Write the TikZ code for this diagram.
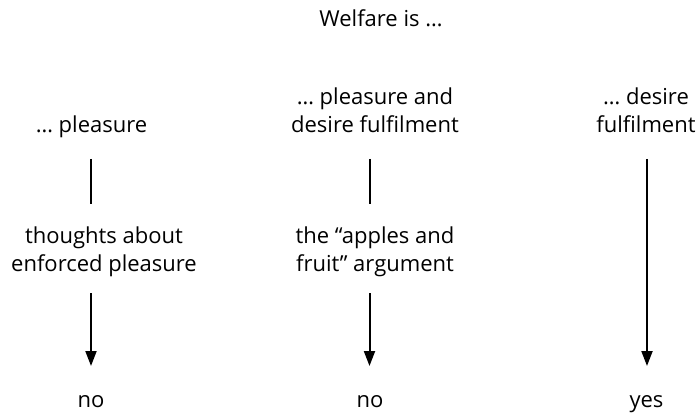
\documentclass[tikz,border=0pt]{standalone}
\usepackage{fontspec}
\setmainfont{Open Sans}
\usetikzlibrary{arrows.meta}
\tikzset{
  lbl/.style={font=\fontsize{22pt}{28.5pt}\selectfont, align=center, anchor=base, inner sep=0pt},
  conn/.style={line width=2pt},
  arr/.style={line width=2pt, -{Triangle[width=11pt,length=15pt]}}
}
\begin{document}
\begin{tikzpicture}[x=1pt,y=-1pt]
\useasboundingbox (0,0) rectangle (699,414);
\node[lbl] (title) at (381,27) {Welfare is …};
\node[lbl] (p1) at (91.5,133) {… pleasure};
\node[lbl] (p2) at (375,133) {… pleasure and\\desire fulfilment};
\node[lbl] (p3) at (646,133) {… desire\\fulfilment};
\node[lbl] (t1) at (104,272) {thoughts about\\enforced pleasure};
\node[lbl] (t2) at (375,272) {the “apples and\\fruit” argument};
\node[lbl] (n1) at (91,407) {no};
\node[lbl] (n2) at (370,407) {no};
\node[lbl] (n3) at (646.5,407) {yes};
\coordinate (a1) at (91,159);
\coordinate (b1) at (91,204);
\coordinate (c1) at (91,293);
\coordinate (d1) at (91,366);
\coordinate (a2) at (369.5,159);
\coordinate (b2) at (369.5,204);
\coordinate (c2) at (369.5,293);
\coordinate (d2) at (369.5,366);
\coordinate (a3) at (647,159);
\coordinate (d3) at (647,366);
\draw[conn] (a1) -- (b1);
\draw[arr] (c1) -- (d1);
\draw[conn] (a2) -- (b2);
\draw[arr] (c2) -- (d2);
\draw[arr] (a3) -- (d3);
\end{tikzpicture}
\end{document}
